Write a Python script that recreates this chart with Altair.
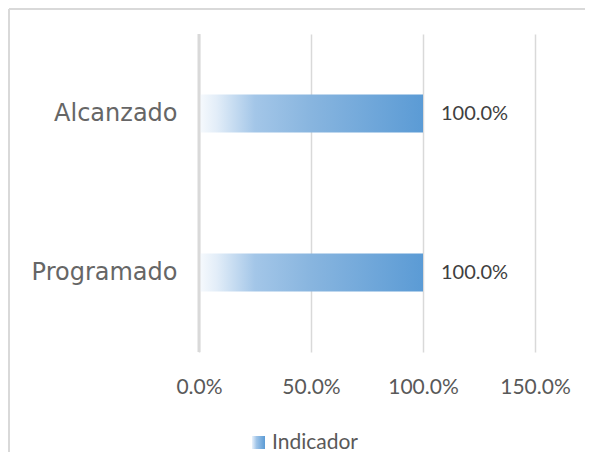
import altair as alt
import pandas as pd

categorias = ["Alcanzado", "Programado"]
valores = [1.0, 1.0]
serie = ["Indicador", "Indicador"]
ticks = [0, 0.5, 1.0, 1.5]

df = pd.DataFrame({"categoria": categorias, "valor": valores, "serie": serie})

grad = alt.LinearGradient(
    gradient="linear",
    stops=[
        alt.GradientStop(offset=0, color="#f7fafd"),
        alt.GradientStop(offset=0.08, color="#e2edf8"),
        alt.GradientStop(offset=0.25, color="#a3c6e8"),
        alt.GradientStop(offset=0.5, color="#88b5df"),
        alt.GradientStop(offset=1, color="#5b9bd5"),
    ],
    x1=0, x2=1, y1=0, y2=0,
)

legend_grad_expr = (
    "{gradient: 'linear', x1: 0, y1: 0, x2: 1, y2: 0, stops: ["
    "{offset: 0, color: '#eaf2fb'}, {offset: 0.35, color: '#9fc4e8'}, "
    "{offset: 1, color: '#5b9bd5'}]}"
)

xscale = alt.Scale(domain=[0, 1.5], nice=False)
yscale = alt.Scale(domain=categorias, paddingInner=0, paddingOuter=0)

base = alt.Chart(df)

frame_top = alt.Chart(alt.Data(values=[{"a": 1}])).mark_rule(
    color="#d9d9d9", strokeWidth=2
).encode(x=alt.value(-190), x2=alt.value(460), y=alt.value(-25))

frame_left = alt.Chart(alt.Data(values=[{"a": 1}])).mark_rule(
    color="#d9d9d9", strokeWidth=2
).encode(x=alt.value(-190), y=alt.value(-25), y2=alt.value(480))

zero = alt.Chart(alt.Data(values=[{"z": 0}])).mark_rule(
    color="#d9d9d9", strokeWidth=3
).encode(x=alt.X("z:Q", scale=xscale))

bars = base.mark_bar(size=38, color=grad).encode(
    x=alt.X(
        "valor:Q",
        scale=xscale,
        title=None,
        axis=alt.Axis(
            values=ticks, format=".1%", grid=True, gridColor="#d9d9d9",
            gridWidth=1.5, domain=False, ticks=False, labelFont="Lato",
            labelFontSize=21, labelColor="#595959", labelPadding=24,
            labelFlush=False,
        ),
    ),
    y=alt.Y(
        "categoria:N", scale=yscale, sort=categorias, title=None,
        axis=alt.Axis(
            domain=False, ticks=False, labelFont="DejaVu Sans", labelFontSize=24,
            labelColor="#666666", labelPadding=22,
        ),
    ),
)

labels = base.mark_text(
    align="left", baseline="middle", dx=18, font="Lato", fontSize=20, color="#404040"
).encode(
    x=alt.X("valor:Q", scale=xscale),
    y=alt.Y("categoria:N", scale=yscale, sort=categorias),
    text=alt.Text("valor:Q", format=".1%"),
)

legend_layer = base.mark_square(opacity=0).encode(
    x=alt.X("valor:Q", scale=xscale),
    y=alt.Y("categoria:N", scale=yscale, sort=categorias),
    color=alt.Color(
        "serie:N",
        scale=alt.Scale(range=[alt.ExprRef(expr=legend_grad_expr)]),
        legend=alt.Legend(
            title=None, orient="none", legendX=49, legendY=398,
            symbolType="square", symbolSize=169, symbolOpacity=1,
            symbolStrokeWidth=0, labelFont="Lato", labelFontSize=21,
            labelColor="#595959", labelOffset=3,
        ),
    ),
)

chart = alt.layer(frame_top, frame_left, bars, zero, labels, legend_layer).properties(
    width=336,
    height=318,
    autosize=alt.AutoSizeParams(type="none"),
    padding={"left": 191, "top": 26, "right": 50, "bottom": 100},
).configure_view(stroke=None)

chart.save("out.html", embed_options={"renderer": "svg", "actions": False})
